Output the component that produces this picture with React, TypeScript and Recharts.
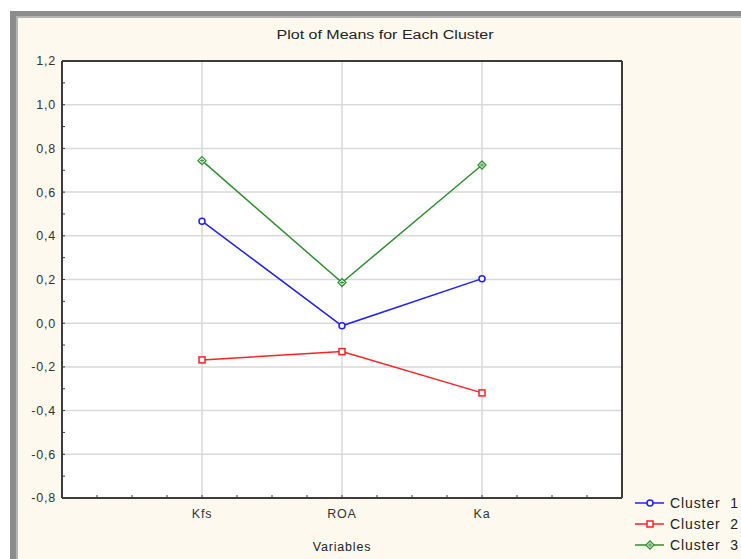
import React from 'react';
import { LineChart, Line, XAxis, YAxis, ReferenceLine, Label, CartesianGrid } from 'recharts';

// means per cluster
const variables = ['Kfs', 'ROA', 'Ka'];
const cluster1 = [0.467, -0.012, 0.204];
const cluster2 = [-0.168, -0.13, -0.319];
const cluster3 = [0.744, 0.186, 0.724];

const yTicks = [-0.8, -0.7, -0.6, -0.5, -0.4, -0.3, -0.2, -0.1, 0, 0.1, 0.2, 0.3, 0.4, 0.5, 0.6, 0.7, 0.8, 0.9, 1.0, 1.1, 1.2];
const yGrid = [-0.6, -0.4, -0.2, 0, 0.2, 0.4, 0.6, 0.8, 1.0];
const xTicks = [0.25, 0.5, 0.75, 1, 1.25, 1.5, 1.75, 2, 2.25, 2.5, 2.75, 3, 3.25, 3.5, 3.75];
const xGrid = [1, 2, 3];

const series = [
  { key: 'c1', name: 'Cluster  1', color: '#2020ff', shape: 'circle' },
  { key: 'c2', name: 'Cluster  2', color: '#ff2020', shape: 'square' },
  { key: 'c3', name: 'Cluster  3', color: '#2f8f2f', shape: 'diamond' },
];

const data = variables.map((name, i) => ({
  pos: i + 1,
  name,
  c1: cluster1[i],
  c2: cluster2[i],
  c3: cluster3[i],
}));

const FONT = '"Liberation Sans", Arial, sans-serif';
const FRAME = '#3c3c3c';
const GRID = '#d9d9d9';
const BG = '#fef9ef';

const fmtY = (v: number) => (Math.round(v * 10) % 2 === 0 ? v.toFixed(1).replace('.', ',') : '');
const fmtX = (v: number) => (Number.isInteger(v) ? variables[v - 1] : '');

const Marker = ({ shape, color, cx, cy }: { shape: string; color: string; cx: number; cy: number }) => {
  if (shape === 'circle') {
    return <circle cx={cx} cy={cy} r={3} fill="#fff" stroke={color} strokeWidth={1.5} />;
  }
  if (shape === 'square') {
    return <rect x={cx - 3} y={cy - 3} width={6} height={6} fill="#fff" stroke={color} strokeWidth={1.5} />;
  }
  return (
    <g>
      <polygon points={`${cx},${cy - 4} ${cx + 4},${cy} ${cx},${cy + 4} ${cx - 4},${cy}`} fill="#fff" stroke={color} strokeWidth={1.3} />
      <line x1={cx - 2} y1={cy} x2={cx + 2} y2={cy} stroke={color} strokeWidth={1} />
      <line x1={cx} y1={cy - 2} x2={cx} y2={cy + 2} stroke={color} strokeWidth={1} />
    </g>
  );
};

const makeDot = (shape: string, color: string) => (props: any) => (
  <Marker key={`${shape}-${props.index}`} shape={shape} color={color} cx={props.cx} cy={props.cy} />
);

const tickStyle = { fontSize: 12.5, fill: '#333', fontFamily: FONT, letterSpacing: 0.8 };

export default function App() {
  return (
    <div style={{ position: 'absolute', left: 0, top: 0, width: 741, height: 559, background: '#fff', overflow: 'hidden', fontFamily: FONT }}>
      <div
        style={{
          position: 'absolute',
          left: 10,
          top: 11,
          width: 760,
          height: 580,
          background: BG,
          borderTop: '5px solid #8c8c8c',
          borderLeft: '6px solid #8c8c8c',
          boxShadow: 'inset 2px 2px 0 #b4b4b4',
        }}
      />
      <div
        style={{
          position: 'absolute',
          left: 235,
          top: 28,
          width: 300,
          textAlign: 'center',
          fontSize: 12.5,
          color: '#222',
          transform: 'scaleX(1.28)',
          transformOrigin: '150px 0',
        }}
      >
        Plot of Means for Each Cluster
      </div>
      <div style={{ position: 'absolute', left: 0, top: 0 }}>
        <LineChart width={741} height={559} data={data} margin={{ top: 60, right: 118, bottom: 1, left: 22 }}>
          <CartesianGrid xAxisId="b" yAxisId="l" horizontal={false} vertical={false} fill="#ffffff" fillOpacity={1} />
          <XAxis
            xAxisId="b"
            type="number"
            dataKey="pos"
            domain={[0, 4]}
            ticks={xTicks}
            interval={0}
            tickFormatter={fmtX}
            tickSize={-3}
            tickMargin={14}
            tickLine={{ stroke: FRAME }}
            axisLine={{ stroke: FRAME, strokeWidth: 2 }}
            tick={tickStyle}
            height={60}
          >
            <Label value="Variables" position="insideBottom" offset={7} style={{ fontSize: 12.5, fill: '#222', fontFamily: FONT, letterSpacing: 0.8 }} />
          </XAxis>
          <XAxis
            xAxisId="t"
            orientation="top"
            type="number"
            dataKey="pos"
            domain={[0, 4]}
            ticks={xTicks}
            interval={0}
            tick={false}
            tickSize={-3}
            tickLine={{ stroke: FRAME }}
            axisLine={{ stroke: FRAME, strokeWidth: 2 }}
            height={1}
          />
          <YAxis
            yAxisId="l"
            type="number"
            domain={[-0.8, 1.2]}
            ticks={yTicks}
            interval={0}
            tickFormatter={fmtY}
            tickSize={-3}
            tickMargin={9}
            tickLine={{ stroke: FRAME }}
            axisLine={{ stroke: FRAME, strokeWidth: 2 }}
            tick={tickStyle}
            width={40}
          />
          <YAxis
            yAxisId="r"
            orientation="right"
            type="number"
            domain={[-0.8, 1.2]}
            ticks={yTicks}
            interval={0}
            tick={false}
            tickSize={-3}
            tickLine={{ stroke: FRAME }}
            axisLine={{ stroke: FRAME, strokeWidth: 2 }}
            width={1}
          />
          {xGrid.map((v) => (
            <ReferenceLine key={`x${v}`} xAxisId="b" yAxisId="l" x={v} stroke={GRID} strokeWidth={1.5} />
          ))}
          {yGrid.map((v) => (
            <ReferenceLine key={`y${v}`} xAxisId="b" yAxisId="l" y={v} stroke={GRID} strokeWidth={1.5} />
          ))}
          {series.map((s) => (
            <Line
              key={s.key}
              xAxisId="b"
              yAxisId="l"
              type="linear"
              dataKey={s.key}
              name={s.name}
              stroke={s.color}
              strokeWidth={1.5}
              dot={makeDot(s.shape, s.color)}
              activeDot={false}
              isAnimationActive={false}
            />
          ))}
        </LineChart>
      </div>
      <div style={{ position: 'absolute', left: 634, top: 492 }}>
        {series.map((s) => (
          <div key={s.key} style={{ display: 'flex', alignItems: 'center', height: 21 }}>
            <svg width={32} height={12}>
              <line x1={1} y1={6} x2={30} y2={6} stroke={s.color} strokeWidth={1.5} />
              <Marker shape={s.shape} color={s.color} cx={16} cy={6} />
            </svg>
            <span style={{ marginLeft: 4, fontSize: 14, color: '#222', whiteSpace: 'pre', letterSpacing: 0.9 }}>{s.name}</span>
          </div>
        ))}
      </div>
    </div>
  );
}
